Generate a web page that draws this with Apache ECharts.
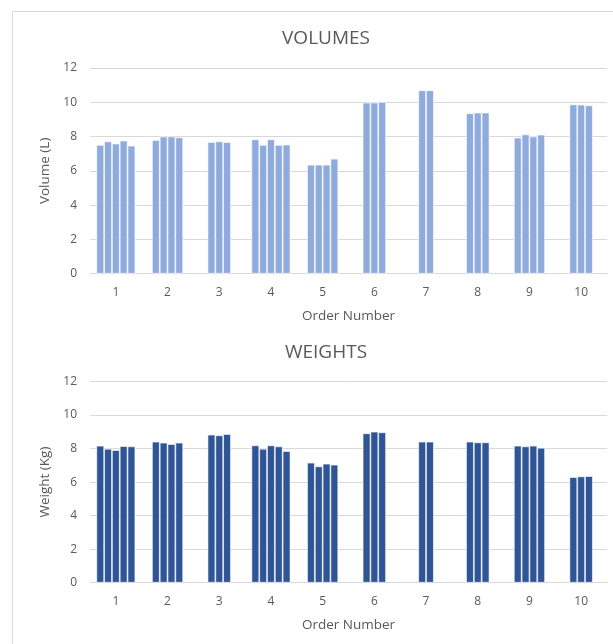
<!DOCTYPE html>
<html>
<head>
<meta charset="utf-8">
<title>Volumes and Weights by Order</title>
<script src="https://cdn.jsdelivr.net/npm/echarts@6/dist/echarts.min.js"></script>
<style>
  html, body { margin: 0; padding: 0; background: #ffffff; }
  #chart { width: 613px; height: 644px; }
</style>
</head>
<body>
<div id="chart"></div>
<script>
// Order numbers along the horizontal axis
const orders = ['1', '2', '3', '4', '5', '6', '7', '8', '9', '10'];

// Item volumes (L) for each order, one inner list per order
const volumes = [
  [7.51, 7.72, 7.59, 7.76, 7.47],
  [7.80, 8.00, 8.00, 7.96],
  [7.68, 7.72, 7.68],
  [7.84, 7.51, 7.84, 7.51, 7.53],
  [6.36, 6.36, 6.36, 6.71],
  [9.98, 9.98, 10.02],
  [10.70, 10.70],
  [9.36, 9.40, 9.40],
  [7.94, 8.13, 8.00, 8.11],
  [9.88, 9.86, 9.82]
];

// Item weights (Kg) for each order
const weights = [
  [8.17, 7.99, 7.91, 8.15, 8.13],
  [8.41, 8.35, 8.27, 8.35],
  [8.83, 8.79, 8.87],
  [8.19, 7.99, 8.19, 8.13, 7.85],
  [7.16, 6.94, 7.10, 7.04],
  [8.91, 9.01, 8.97],
  [8.41, 8.41],
  [8.41, 8.37, 8.37],
  [8.17, 8.13, 8.17, 8.05],
  [6.30, 6.34, 6.36]
];

// Value-axis range shared by both panels
const yMin = 0;
const yMax = 12;
const yStep = 2;

const TEXT = '#595959';
const GRID_LINE = '#d9d9d9';
const FONT = 'Open Sans';

// Groups with an odd item count sit on a 5-slot cluster, even counts on a
// 4-slot cluster, so every order's bars stay centred on its tick.
function buildSeries(groups, color, oddAxis, evenAxis, yAxisIndex) {
  const odd = Array.from({ length: 5 }, () => orders.map(() => null));
  const even = Array.from({ length: 4 }, () => orders.map(() => null));
  groups.forEach((vals, ci) => {
    const n = vals.length;
    const slots = n % 2 ? odd : even;
    const start = ((n % 2 ? 5 : 4) - n) / 2;
    vals.forEach((v, k) => { slots[start + k][ci] = v; });
  });
  const make = (data, axis) => ({
    type: 'bar',
    xAxisIndex: axis,
    yAxisIndex: yAxisIndex,
    data: data,
    barWidth: 7.8,
    barGap: '0%',
    silent: true,
    itemStyle: { color: color, borderColor: 'rgba(255,255,255,0.75)', borderWidth: 0.8 }
  });
  return odd.map(d => make(d, oddAxis)).concat(even.map(d => make(d, evenAxis)));
}

function categoryAxis(gridIndex, visible) {
  return {
    type: 'category',
    gridIndex: gridIndex,
    data: orders,
    show: visible,
    name: visible ? 'Order Number' : '',
    nameLocation: 'middle',
    nameGap: 35,
    nameTextStyle: { color: TEXT, fontSize: 13.5, fontFamily: FONT },
    axisLine: { show: true, lineStyle: { color: GRID_LINE, width: 1 } },
    axisTick: { show: false },
    axisLabel: { color: TEXT, fontSize: 12, fontFamily: FONT, margin: 13 },
    splitLine: { show: false }
  };
}

function valueAxis(gridIndex, name) {
  return {
    type: 'value',
    gridIndex: gridIndex,
    min: yMin,
    max: yMax,
    interval: yStep,
    name: name,
    nameLocation: 'middle',
    nameGap: 35,
    nameTextStyle: { color: TEXT, fontSize: 13.5, fontFamily: FONT },
    axisLine: { show: false },
    axisTick: { show: false },
    axisLabel: { color: TEXT, fontSize: 12, fontFamily: FONT, margin: 13 },
    splitLine: { show: true, lineStyle: { color: GRID_LINE, width: 1 } }
  };
}

const chart = echarts.init(document.getElementById('chart'), null, { renderer: 'canvas' });

chart.setOption({
  backgroundColor: '#ffffff',
  animation: false,
  title: [
    {
      text: 'VOLUMES', left: 321, top: 24, textAlign: 'center',
      textStyle: { color: TEXT, fontSize: 19, fontWeight: 'normal', fontFamily: FONT }
    },
    {
      text: 'WEIGHTS', left: 321, top: 338, textAlign: 'center',
      textStyle: { color: TEXT, fontSize: 19, fontWeight: 'normal', fontFamily: FONT }
    }
  ],
  graphic: [{
    type: 'rect',
    silent: true,
    shape: { x: 12.5, y: 11.5, width: 700, height: 700 },
    style: { fill: 'none', stroke: '#d9d9d9', lineWidth: 1 }
  }],
  grid: [
    { left: 90, top: 68, width: 517, height: 205.7 },
    { left: 90, top: 381.5, width: 517, height: 201.2 }
  ],
  xAxis: [
    categoryAxis(0, true),
    categoryAxis(0, false),
    categoryAxis(1, true),
    categoryAxis(1, false)
  ],
  yAxis: [
    valueAxis(0, 'Volume (L)'),
    valueAxis(1, 'Weight (Kg)')
  ],
  series: buildSeries(volumes, '#8faadc', 0, 1, 0)
    .concat(buildSeries(weights, '#2f5597', 2, 3, 1))
});
</script>
</body>
</html>
